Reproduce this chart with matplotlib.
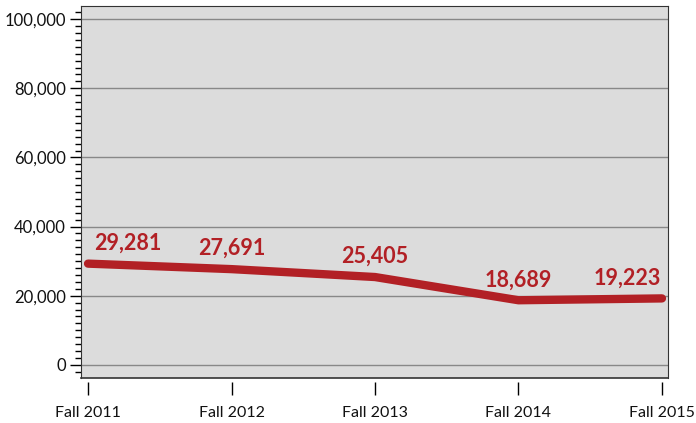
import numpy as np
import matplotlib.pyplot as plt
from matplotlib.ticker import MultipleLocator, FuncFormatter

semesters = ["Fall 2011", "Fall 2012", "Fall 2013", "Fall 2014", "Fall 2015"]
enrollment = [29281, 27691, 25405, 18689, 19223]
label_dx = [40, 0, 0, 0, -35]

plt.rcParams['font.family'] = ['Lato', 'DejaVu Sans']

fig = plt.figure(figsize=(6.96, 4.23), dpi=100)
ax = fig.add_axes([81 / 696, 1 - 378 / 423, (668 - 81) / 696, (378 - 6) / 423])
ax.set_facecolor("#dcdcdc")

x = np.arange(len(semesters))
ax.plot(x, enrollment, color="#b22025", lw=6, solid_capstyle="round", zorder=3)

# value labels above the line
for i, v in enumerate(enrollment):
    ax.annotate(f"{v:,}", (x[i], v), xytext=(label_dx[i], 10), textcoords="offset pixels",
                ha="center", va="bottom", color="#b22025", fontsize=15.5, fontweight="bold")

ax.set_xlim(-0.049, 4.042)
ax.set_ylim(-3800, 103800)
ax.set_xticks(x)
ax.set_xticklabels(semesters)
ax.yaxis.set_major_locator(MultipleLocator(20000))
ax.yaxis.set_minor_locator(MultipleLocator(2000))
ax.yaxis.set_major_formatter(FuncFormatter(lambda v, p: f"{int(v):,}"))
ax.tick_params(axis="y", which="major", length=8, width=1, labelsize=12, labelcolor="#111111", pad=3)
ax.tick_params(axis="y", which="minor", length=4, width=1)
ax.tick_params(axis="x", length=9, width=1, pad=8, direction="out", labelsize=11.5, labelcolor="#111111")
ax.spines["bottom"].set_position(("outward", 3))
ax.spines["bottom"].set_visible(False)
for s in ["top", "right", "left"]:
    ax.spines[s].set_color("#333333")
ax.plot([0, 1], [0, 0], transform=ax.transAxes, color="#333333", lw=1.2, clip_on=False)
ax.grid(axis="y", which="major", color="#888888", lw=1, zorder=1)

fig.savefig("out.png", dpi=100)
